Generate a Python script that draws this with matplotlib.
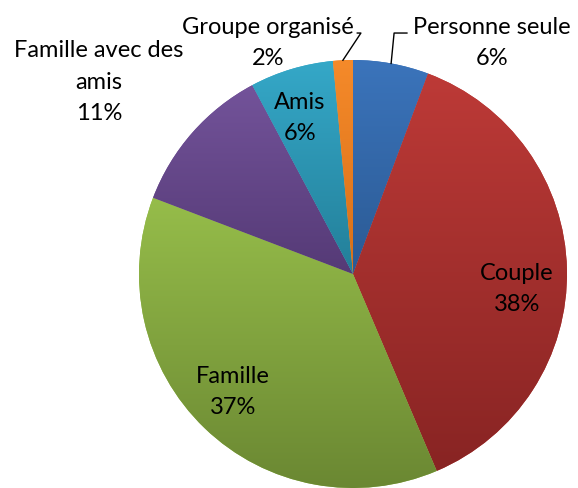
import numpy as np
import matplotlib
matplotlib.use("Agg")
import matplotlib.pyplot as plt
from matplotlib.colors import LinearSegmentedColormap

plt.rcParams['font.family'] = ['Lato', 'DejaVu Sans']

categories = ["Personne seule", "Couple", "Famille", "Famille avec des amis", "Amis", "Groupe organisé"]
values = [5.7, 37.9, 37.2, 11.4, 6.3, 1.5]
label_texts = ["Personne seule", "Couple", "Famille", "Famille avec des\namis", "Amis", "Groupe organisé"]

top_colors = ["#3B74BB", "#BD3A37", "#96BD4A", "#73539A", "#35A8C8", "#F58A2A"]
bottom_colors = ["#2B5A94", "#882423", "#6A8732", "#553A76", "#237F99", "#D86F18"]

fig = plt.figure(figsize=(5.78, 4.88), dpi=100)
ax = fig.add_axes([139/578, 0, 428/578, 428/488])

wedges, _ = ax.pie(values, startangle=90, counterclock=False, radius=1,
                   colors=top_colors, wedgeprops=dict(linewidth=0))
ax.set_xlim(-1, 1)
ax.set_ylim(-1, 1)
ax.set_aspect('equal')
ax.axis('off')

# vertical gradient fill per slice
for w, ct, cb in zip(wedges, top_colors, bottom_colors):
    verts = w.get_patch_transform().transform(w.get_path().vertices)
    xmin, ymin = verts.min(axis=0)
    xmax, ymax = verts.max(axis=0)
    cmap = LinearSegmentedColormap.from_list("g", [cb, ct])
    grad = np.linspace(0, 1, 256).reshape(-1, 1)
    im = ax.imshow(grad, extent=[xmin, xmax, ymin, ymax], origin='lower',
                   cmap=cmap, aspect='auto', zorder=w.get_zorder() + 0.1)
    im.set_clip_path(w)
ax.set_xlim(-1, 1)
ax.set_ylim(-1, 1)

fs = 17
ls = 1.62
def pct(v):
    return f"{int(round(v))}%"

# label positions (data coords)
pos = {
    0: (0.650, 1.079),
    1: (0.766, -0.070),
    2: (-0.561, -0.551),
    3: (-1.187, 0.897),
    4: (-0.248, 0.729),
    5: (-0.397, 1.079),
}
for i, (t, v) in enumerate(zip(label_texts, values)):
    x, y = pos[i]
    ax.text(x, y, f"{t}\n{pct(v)}", ha='center', va='center', fontsize=fs,
            linespacing=ls, color='black', clip_on=False, zorder=10)

# leader lines
def mid_point(w):
    th = np.deg2rad((w.theta1 + w.theta2) / 2)
    return np.cos(th), np.sin(th)

sx, sy = mid_point(wedges[0])
ax.plot([sx, 0.192, 0.252], [sy, 1.126, 1.126], color='black', lw=1.0,
        clip_on=False, zorder=9)
sx, sy = mid_point(wedges[5])
ax.plot([sx, 0.037, 0.020], [sy, 1.126, 1.126], color='black', lw=1.0,
        clip_on=False, zorder=9)

fig.savefig("out.png", dpi=100)
